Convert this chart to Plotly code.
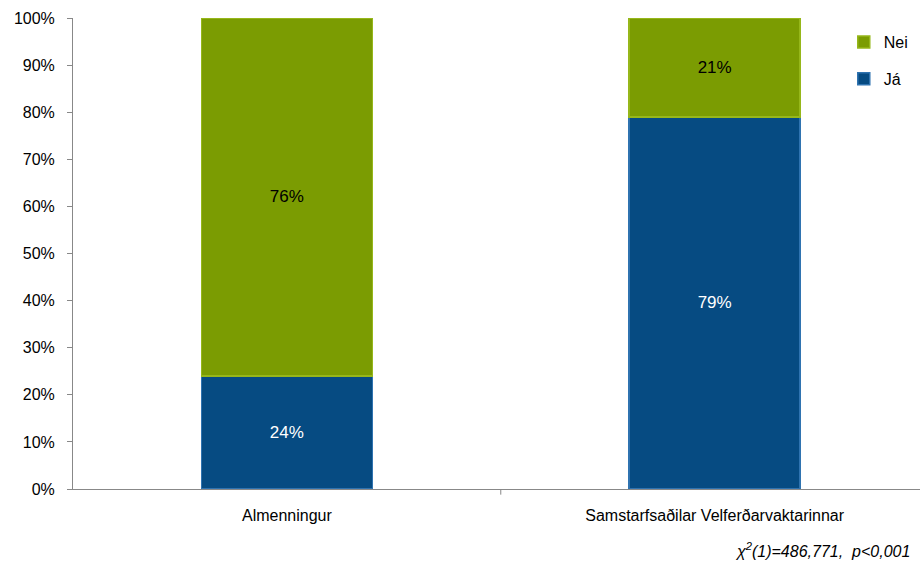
import plotly.graph_objects as go

categories = ["Almenningur", "Samstarfsaðilar Velferðarvaktarinnar"]
ja_values = [24, 79]
nei_values = [76, 21]
tick_vals = [0, 10, 20, 30, 40, 50, 60, 70, 80, 90, 100]
tick_text = [f"{v}%" for v in tick_vals]

FONT = "Liberation Sans, Arial, sans-serif"

fig = go.Figure()
fig.add_trace(go.Bar(
    x=categories, y=ja_values, name="Já", legendgroup="ja", legendrank=2,
    marker=dict(color="#064b82", line=dict(color="#2f73b0", width=1.5)),
    text=[f"{v}%" for v in ja_values], textposition="inside", insidetextanchor="middle",
    textfont=dict(color="white", size=17, family=FONT), width=0.4,
    hoverinfo="skip",
))
fig.add_trace(go.Bar(
    x=categories, y=nei_values, name="Nei", legendgroup="nei", legendrank=1,
    marker=dict(color="#7b9c02", line=dict(color="#96b71a", width=1.5)),
    text=[f"{v}%" for v in nei_values], textposition="inside", insidetextanchor="middle",
    textfont=dict(color="black", size=17, family=FONT), width=0.4,
    hoverinfo="skip",
))

fig.update_layout(
    width=920, height=570,
    barmode="stack",
    paper_bgcolor="white", plot_bgcolor="white",
    margin=dict(l=73, r=0, t=18, b=81),
    font=dict(family=FONT, size=16, color="black"),
    showlegend=True,
    legend=dict(x=0.91, y=0.985, xanchor="left", yanchor="top",
                traceorder="grouped", tracegroupgap=13, itemwidth=30,
                font=dict(size=16, family=FONT), bgcolor="rgba(0,0,0,0)"),
    uniformtext=dict(mode=False),
)
fig.update_xaxes(
    range=[-0.5, 1.48], showline=True, linecolor="#888888", linewidth=1,
    ticks="", showgrid=False, tickfont=dict(size=16, family=FONT),
    ticklabelstandoff=12,
)
fig.update_yaxes(
    range=[0, 100], tickvals=tick_vals, ticktext=tick_text,
    showline=True, linecolor="#888888", linewidth=1,
    ticks="outside", ticklen=5, tickcolor="#888888",
    showgrid=False, zeroline=False, tickfont=dict(size=16, family=FONT),
    ticklabelstandoff=9,
)
fig.add_annotation(
    text="<i>χ<sup>2</sup>(1)=486,771,  p<0,001</i>",
    xref="paper", yref="paper", x=0.99, y=-0.13, xanchor="right", yanchor="middle",
    showarrow=False, font=dict(size=16, family=FONT, color="black"),
)
# divider tick between categories
fig.add_shape(type="line", xref="x", yref="paper", x0=0.5, x1=0.5, y0=0, y1=-0.012,
              line=dict(color="#888888", width=1))

fig.write_html("out.html", config={"displayModeBar": False},
               post_script="document.body.style.margin='0px';")
